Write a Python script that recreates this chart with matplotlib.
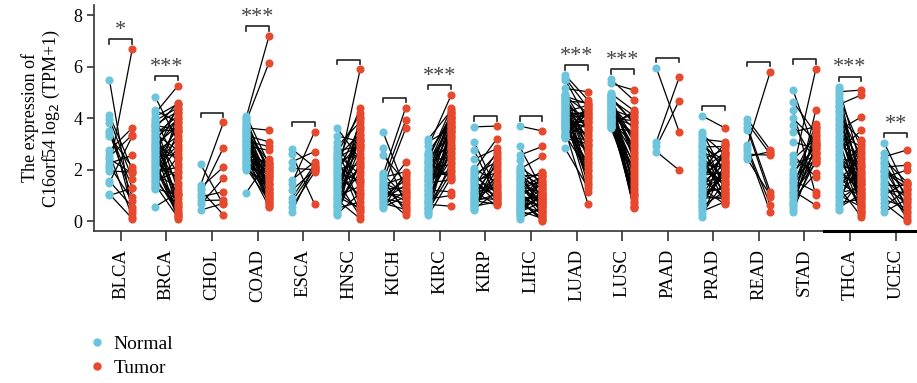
import numpy as np
import matplotlib
matplotlib.use("Agg")
import matplotlib.pyplot as plt
from matplotlib.lines import Line2D

plt.rcParams['font.family'] = ['Liberation Serif', 'DejaVu Serif']

# 癌种
cancers = ["BLCA", "BRCA", "CHOL", "COAD", "ESCA", "HNSC", "KICH", "KIRC", "KIRP",
           "LIHC", "LUAD", "LUSC", "PAAD", "PRAD", "READ", "STAD", "THCA", "UCEC"]
signif = ["*", "***", "", "***", "", "", "", "***", "", "", "***", "***", "", "", "", "", "***", "**"]

# 配对样本 (normal, tumor)
blca_n = [5.47, 4.12, 3.95, 3.80, 3.50, 3.42, 3.30, 2.75, 2.62, 2.50, 2.42, 2.25, 2.15, 2.05, 1.95, 1.55, 1.50, 1.05, 1.00]
blca_t = [0.30, 2.00, 1.65, 0.45, 1.30, 0.95, 2.10, 3.62, 0.15, 3.35, 1.85, 2.55, 0.80, 6.68, 1.90, 0.55, 3.30, 0.10, 1.28]

brca_n = [4.83, 4.30, 4.18, 4.05, 3.95, 3.90, 3.82, 3.75, 3.68, 3.60, 3.55, 3.48, 3.40, 3.35, 3.28, 3.20, 3.15, 3.08, 3.00, 2.95,
          2.88, 2.80, 2.75, 2.68, 2.60, 2.55, 2.48, 2.40, 2.35, 2.28, 2.20, 2.15, 2.08, 2.00, 1.95, 1.88, 1.80, 1.75, 1.68, 1.60,
          1.55, 1.48, 1.42, 1.35, 1.28, 1.25, 3.72, 2.92, 2.10, 0.56]
brca_t = [3.10, 3.85, 5.25, 4.55, 2.20, 4.40, 1.20, 4.25, 0.60, 4.60, 3.50, 0.35, 2.75, 4.10, 1.85, 3.95, 0.90, 4.35, 2.40, 3.70,
          1.50, 0.20, 4.00, 3.30, 1.05, 4.50, 2.60, 0.10, 3.60, 1.70, 0.45, 3.20, 2.95, 0.75, 3.80, 2.10, 1.35, 0.30, 2.85, 0.55,
          1.95, 3.45, 0.15, 2.50, 1.00, 4.20, 3.55, 0.65, 0.25, 1.10]

chol_n = [2.20, 1.40, 1.30, 1.20, 1.05, 0.95, 0.80, 0.65, 0.43]
chol_t = [0.65, 3.83, 2.10, 0.25, 2.85, 1.14, 0.82, 1.66, 0.69]

coad_n = [4.10, 4.02, 3.95, 3.88, 3.80, 3.74, 3.68, 3.62, 3.55, 3.50, 3.44, 3.38, 3.32, 3.26, 3.20, 3.15, 3.10, 3.04, 2.98, 2.92,
          2.86, 2.80, 2.75, 2.70, 2.64, 2.58, 2.52, 2.46, 2.40, 2.35, 2.30, 2.25, 2.20, 2.15, 2.10, 2.05, 2.00, 3.58, 3.35, 2.90, 1.10]
coad_t = [2.20, 7.18, 1.80, 6.15, 1.20, 2.05, 0.90, 3.53, 1.60, 0.60, 2.30, 1.40, 3.08, 1.00, 0.75, 1.90, 2.90, 1.30, 0.65, 2.75,
          1.70, 2.10, 0.85, 1.50, 1.10, 2.25, 0.70, 1.95, 1.25, 0.95, 1.65, 0.56, 2.15, 1.05, 1.85, 0.80, 1.45, 2.00, 1.15, 1.75, 2.40]

esca_n = [2.80, 2.60, 2.30, 2.05, 1.60, 1.45, 1.20, 0.90, 0.75, 0.55, 0.36]
esca_t = [2.10, 0.66, 2.70, 2.00, 2.30, 3.47, 1.98, 2.20, 2.05, 1.90, 2.15]

hnsc_n = [3.60, 3.30, 3.08, 2.90, 2.82, 2.74, 2.66, 2.58, 2.50, 2.42, 2.34, 2.26, 2.18, 2.10, 2.02, 1.94, 1.86, 1.78, 1.70, 1.62,
          1.54, 1.46, 1.38, 1.30, 1.22, 1.14, 1.06, 0.98, 0.90, 0.82, 0.74, 0.66, 0.58, 0.50, 0.42, 0.35, 0.28, 0.23, 2.46, 1.90,
          1.50, 0.95, 0.60]
hnsc_t = [2.40, 3.10, 1.20, 3.86, 0.60, 2.90, 4.18, 1.80, 3.40, 0.35, 2.60, 4.38, 1.50, 3.00, 2.20, 0.90, 3.70, 1.00, 5.89, 2.75,
          0.20, 3.20, 1.65, 2.05, 3.55, 0.45, 2.50, 1.35, 3.95, 0.10, 2.85, 1.90, 3.30, 0.75, 4.05, 2.30, 1.10, 3.60, 2.95, 1.55,
          3.15, 0.50, 2.15]

kich_n = [3.47, 2.82, 2.56, 1.85, 1.78, 1.70, 1.62, 1.55, 1.48, 1.42, 1.36, 1.30, 1.24, 1.18, 1.12, 1.06, 1.00, 0.94, 0.88, 0.82,
          0.76, 0.70, 0.62, 0.55, 0.50]
kich_t = [1.20, 0.60, 1.50, 0.90, 4.41, 1.92, 0.35, 3.92, 1.10, 1.70, 0.50, 3.60, 1.30, 0.80, 2.28, 1.00, 0.23, 1.60, 0.70, 1.40,
          1.80, 0.45, 1.15, 0.95, 1.85]

kirc_n = [3.20, 3.08, 2.90, 2.70, 2.62, 2.55, 2.48, 2.40, 2.33, 2.26, 2.19, 2.12, 2.05, 1.98, 1.91, 1.84, 1.77, 1.70, 1.63, 1.56,
          1.49, 1.42, 1.35, 1.28, 1.21, 1.14, 1.07, 1.00, 0.93, 0.86, 0.79, 0.72, 0.65, 0.58, 0.51, 0.44, 0.37, 0.30, 0.23, 2.00,
          1.60, 1.20, 0.80, 0.50, 2.30]
kirc_t = [4.30, 3.60, 4.90, 3.90, 2.80, 4.10, 3.30, 4.38, 2.50, 3.75, 4.20, 3.10, 2.20, 3.95, 3.50, 1.80, 4.00, 2.90, 3.65, 4.25,
          1.60, 3.20, 2.60, 3.85, 1.14, 3.40, 2.40, 4.15, 3.00, 1.00, 2.70, 3.55, 0.58, 2.10, 3.80, 1.90, 2.30, 3.45, 1.70, 4.05,
          2.00, 3.25, 2.85, 3.70, 1.65]

kirp_n = [3.66, 3.08, 2.76, 2.40, 2.05, 1.98, 1.90, 1.82, 1.75, 1.68, 1.60, 1.52, 1.45, 1.38, 1.30, 1.22, 1.15, 1.08, 1.00, 0.94,
          0.88, 0.82, 0.76, 0.70, 0.64, 0.58, 0.52, 0.46, 0.43, 1.55, 1.10, 0.80]
kirp_t = [3.69, 1.20, 0.90, 2.82, 1.50, 3.20, 0.80, 2.30, 1.10, 2.60, 0.70, 1.90, 2.10, 1.00, 2.70, 1.40, 0.62, 2.20, 1.30, 1.70,
          0.85, 2.50, 1.05, 1.60, 2.00, 0.75, 1.80, 1.15, 2.40, 0.95, 1.35, 0.65]

lihc_n = [3.69, 2.90, 2.56, 2.37, 2.10, 2.02, 1.95, 1.88, 1.80, 1.72, 1.65, 1.58, 1.50, 1.43, 1.36, 1.29, 1.22, 1.15, 1.08, 1.01,
          0.95, 0.89, 0.83, 0.77, 0.71, 0.65, 0.59, 0.53, 0.47, 0.41, 0.35, 0.29, 0.23, 0.17, 0.10, 1.90, 1.60, 1.30, 1.00, 0.70,
          0.45, 1.75, 1.25, 0.85, 0.55]
lihc_t = [3.50, 1.20, 2.90, 0.80, 1.50, 2.52, 0.40, 1.00, 1.80, 0.60, 1.30, 0.90, 1.92, 0.30, 1.10, 0.70, 1.60, 0.20, 1.40, 0.50,
          0.85, 1.70, 0.00, 1.05, 0.65, 1.25, 0.35, 0.95, 1.55, 0.10, 0.75, 1.15, 0.45, 1.85, 0.55, 1.35, 0.25, 0.80, 1.45, 0.15,
          1.00, 0.60, 1.75, 0.05, 0.90]

luad_n = [5.67, 5.55, 5.48, 5.15, 4.90, 4.84, 4.78, 4.72, 4.66, 4.60, 4.54, 4.48, 4.42, 4.36, 4.30, 4.24, 4.18, 4.12, 4.06, 4.00,
          3.94, 3.88, 3.82, 3.76, 3.70, 3.64, 3.58, 3.52, 3.46, 3.40, 3.34, 3.28, 3.22, 2.82, 4.85, 4.70, 4.50, 4.20, 4.00, 3.80,
          3.60, 3.40, 4.95, 4.62, 4.33, 4.10, 3.90, 3.70, 3.30, 3.25]
luad_t = [4.70, 4.40, 3.90, 5.02, 2.80, 4.20, 3.50, 1.80, 4.60, 3.10, 2.40, 4.00, 1.40, 3.70, 2.90, 4.50, 2.10, 3.30, 1.14, 4.30,
          3.60, 2.60, 1.60, 3.95, 4.10, 2.20, 3.40, 0.66, 2.70, 4.45, 1.95, 3.80, 3.00, 1.30, 4.55, 2.50, 3.20, 4.15, 1.70, 3.85,
          2.30, 4.35, 3.55, 1.50, 2.95, 4.05, 3.65, 2.00, 3.15, 4.25]

lusc_n = [5.51, 5.35, 4.96, 4.90, 4.84, 4.78, 4.72, 4.66, 4.60, 4.54, 4.48, 4.42, 4.36, 4.30, 4.24, 4.18, 4.12, 4.06, 4.00, 3.94,
          3.88, 3.82, 3.76, 3.70, 3.64, 3.60, 4.93, 4.80, 4.70, 4.57, 4.45, 4.33, 4.21, 4.09, 3.97, 3.85, 3.73, 4.87, 4.63, 4.39,
          4.15, 3.91, 3.67, 4.75, 4.27]
lusc_t = [4.70, 5.09, 4.30, 2.50, 3.80, 1.20, 4.10, 3.20, 0.90, 2.80, 3.60, 1.80, 4.00, 0.50, 2.20, 3.40, 1.50, 2.60, 3.90, 0.70,
          3.00, 1.00, 2.00, 4.20, 1.30, 3.50, 0.60, 2.40, 1.70, 3.10, 2.90, 0.80, 1.90, 3.70, 1.10, 2.30, 4.25, 1.40, 2.70, 0.55,
          3.30, 1.60, 2.10, 3.85, 1.00]

paad_n = [5.95, 3.08, 2.90, 2.70]
paad_t = [3.47, 5.58, 4.67, 1.98]

prad_n = [4.09, 3.47, 3.38, 3.28, 3.18, 3.08, 2.98, 2.88, 2.78, 2.68, 2.58, 2.48, 2.38, 2.28, 2.18, 2.08, 1.98, 1.88, 1.78, 1.68,
          1.58, 1.48, 1.38, 1.28, 1.18, 1.08, 0.98, 0.88, 0.78, 0.68, 0.58, 0.48, 0.38, 0.28, 0.17, 2.50, 2.00, 1.50, 1.00, 0.60,
          2.20, 1.70, 1.20, 0.80, 2.90]
prad_t = [3.62, 1.80, 2.60, 1.20, 3.08, 2.00, 0.90, 2.90, 1.50, 2.30, 0.70, 1.70, 2.80, 1.10, 2.10, 1.40, 3.00, 0.80, 1.90, 2.50,
          1.00, 2.20, 1.60, 0.66, 2.70, 1.30, 2.40, 0.95, 1.85, 2.05, 1.15, 2.95, 0.75, 1.55, 2.25, 1.05, 2.65, 1.75, 0.85, 2.15,
          1.45, 2.55, 1.25, 1.95, 2.35]

read_n = [3.95, 3.80, 3.66, 3.55, 2.95, 2.85, 2.76, 2.60, 2.50, 2.40]
read_t = [2.76, 2.60, 1.14, 0.95, 5.80, 0.62, 0.36, 2.56, 2.70, 1.00]

stad_n = [5.09, 4.63, 4.31, 3.99, 3.75, 3.47, 3.08, 2.56, 2.40, 2.24, 1.98, 1.88, 1.78, 1.68, 1.58, 1.48, 1.38, 1.28, 1.18, 1.08,
          0.98, 0.88, 0.78, 0.68, 0.58, 0.48, 0.36, 1.50, 1.10, 0.70]
stad_t = [2.60, 3.40, 1.00, 3.10, 2.30, 3.66, 2.80, 1.72, 3.20, 2.50, 5.90, 2.90, 3.50, 2.40, 1.14, 3.00, 2.70, 3.79, 0.62, 2.45,
          3.30, 1.85, 2.85, 4.31, 2.35, 3.60, 2.65, 3.05, 2.24, 2.95]

thca_n = [5.22, 5.12, 5.02, 4.92, 4.82, 4.72, 4.62, 4.52, 4.42, 4.32, 4.22, 4.12, 4.02, 3.92, 3.82, 3.72, 3.62, 3.52, 3.42, 3.32,
          3.22, 3.12, 3.02, 2.92, 2.82, 2.72, 2.62, 2.52, 2.42, 2.32, 2.22, 2.12, 2.02, 1.92, 1.82, 1.72, 1.62, 1.52, 1.42, 1.32,
          1.22, 1.12, 1.02, 0.92, 0.82, 0.72, 0.62, 0.52, 0.43, 4.47]
thca_t = [2.10, 1.20, 5.09, 0.60, 2.80, 1.50, 0.30, 4.90, 1.80, 0.90, 2.50, 1.10, 3.15, 0.40, 2.20, 1.60, 0.70, 4.05, 1.30, 2.90,
          0.50, 1.90, 1.00, 2.60, 0.25, 3.53, 1.40, 0.80, 2.30, 1.70, 0.35, 2.00, 1.15, 3.00, 0.65, 1.55, 2.40, 0.95, 1.85, 0.17,
          2.70, 1.25, 0.55, 2.15, 1.45, 0.85, 3.10, 1.05, 1.65, 0.45]

ucec_n = [3.04, 2.63, 2.50, 2.40, 2.30, 2.20, 2.10, 2.00, 1.90, 1.80, 1.70, 1.60, 1.50, 1.40, 1.30, 1.20, 1.10, 1.00, 0.85, 0.70,
          0.55, 0.36, 1.95]
ucec_t = [1.20, 0.80, 2.76, 1.50, 0.40, 1.00, 2.17, 0.60, 1.30, 0.20, 1.98, 0.90, 0.10, 1.40, 0.70, 1.10, 0.30, 1.53, 0.50, 0.00,
          1.25, 0.85, 1.45]

normal = [blca_n, brca_n, chol_n, coad_n, esca_n, hnsc_n, kich_n, kirc_n, kirp_n,
          lihc_n, luad_n, lusc_n, paad_n, prad_n, read_n, stad_n, thca_n, ucec_n]
tumor = [blca_t, brca_t, chol_t, coad_t, esca_t, hnsc_t, kich_t, kirc_t, kirp_t,
         lihc_t, luad_t, lusc_t, paad_t, prad_t, read_t, stad_t, thca_t, ucec_t]

c_normal = "#6CC5DC"
c_tumor = "#E6492D"
dx = 0.25

fig = plt.figure(figsize=(9.17, 3.83), dpi=100)
ax = fig.add_axes([0.1025, 0.397, 0.897, 0.59])

for i in range(len(cancers)):
    n = np.array(normal[i])
    t = np.array(tumor[i])
    # 连线
    for a, b in zip(n, t):
        ax.plot([i - dx, i + dx], [a, b], color="black", lw=0.9, zorder=2)
    ax.scatter(np.full(len(n), i - dx), n, s=34, color=c_normal, lw=0, zorder=3)
    ax.scatter(np.full(len(t), i + dx), t, s=34, color=c_tumor, lw=0, zorder=3)
    # 显著性括号
    top = max(n.max(), t.max()) + 0.38
    ax.plot([i - dx, i - dx, i + dx, i + dx], [top - 0.17, top, top, top - 0.17],
            color="#222222", lw=1.2, zorder=2)
    if signif[i]:
        ax.text(i, top - 0.02, signif[i], ha="center", va="bottom", fontsize=16, color="#444444")

ax.set_xlim(-0.59, 17.46)
ax.set_ylim(-0.38, 8.39)
ax.set_xticks(range(len(cancers)))
ax.set_xticklabels(cancers, rotation=90, fontsize=13.5)
ax.set_yticks([0, 2, 4, 6, 8])
ax.tick_params(axis="y", labelsize=13, length=5, width=1.2, color="#333333")
ax.tick_params(axis="x", length=7, width=1.2, color="#333333", pad=6)
for s in ["top", "right"]:
    ax.spines[s].set_visible(False)
for s in ["left", "bottom"]:
    ax.spines[s].set_color("#333333")
    ax.spines[s].set_linewidth(1.2)
# 底部右侧的粗线段
ax.plot([15.42, 17.46], [-0.38, -0.38], color="black", lw=2.2, clip_on=False, zorder=5)
ax.set_ylabel("The expression of\nC16orf54 log$_2$ (TPM+1)", fontsize=13, linespacing=1.1, labelpad=8)

# 图例
handles = [Line2D([], [], marker="o", ls="", color=c_normal, markersize=5),
           Line2D([], [], marker="o", ls="", color=c_tumor, markersize=5)]
fig.legend(handles, ["Normal", "Tumor"], loc="center left", bbox_to_anchor=(0.076, 0.07),
           frameon=False, fontsize=14, handletextpad=0.35, labelspacing=0.35, handlelength=1.0)

plt.savefig("out.png", dpi=100)
